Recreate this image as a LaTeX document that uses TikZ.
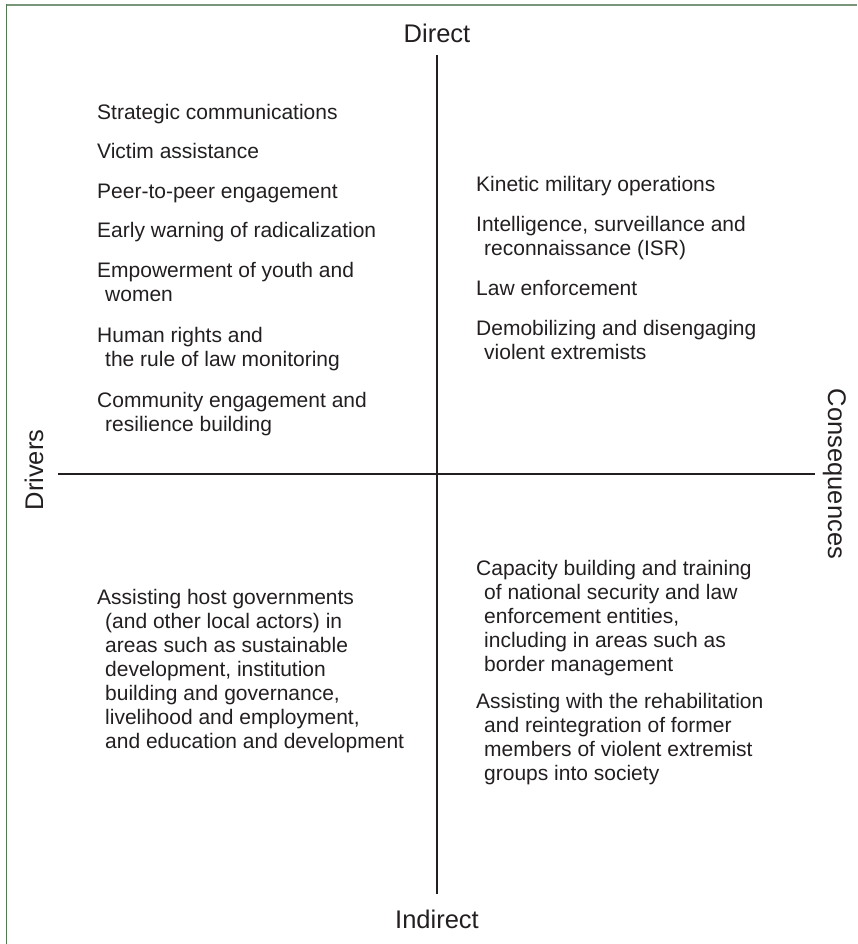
\documentclass[tikz,border=0pt]{standalone}
\usepackage{fontspec}
\setmainfont{Liberation Sans}
\definecolor{ink}{RGB}{35,31,32}
\definecolor{frameTop}{RGB}{122,150,122}
\definecolor{frameLeft}{RGB}{80,125,80}
\newcommand{\itm}[1]{\begin{tabular}[t]{@{}l@{}}#1\end{tabular}}
\newcommand{\ind}{\hspace*{8pt}}
\tikzset{
  item/.style={anchor=base west, inner sep=0pt, font=\fontsize{21}{24}\selectfont, text=ink},
  axislabel/.style={anchor=base, inner sep=0pt, font=\fontsize{25.5}{28}\selectfont, text=ink},
  axisline/.style={draw=ink, line width=2pt}
}
\begin{document}
\begin{tikzpicture}[x=1pt,y=-1pt]
\useasboundingbox (0,0) rectangle (857,944);
% frame
\draw[frameTop, line width=2pt] (5.5,4.8) -- (857,4.8);
\draw[frameLeft, line width=1.8pt] (6.5,4) -- (6.5,944);
% axes
\coordinate (vt) at (437,55);
\coordinate (vb) at (437,894);
\coordinate (hl) at (58,474);
\coordinate (hr) at (815,474);
\draw[axisline] (vt) -- (vb);
\draw[axisline] (hl) -- (hr);
% axis labels
\node[axislabel] (direct) at (437,43) {Direct};
\node[axislabel] (indirect) at (437,928) {Indirect};
\node[axislabel, rotate=90] (drivers) at (43,470) {Drivers};
\node[axislabel, rotate=-90] (conseq) at (828,474) {Consequences};
% upper left
\node[item] (ul1) at (97,120) {\itm{Strategic communications}};
\node[item] (ul2) at (97,159) {\itm{Victim assistance}};
\node[item] (ul3) at (97,198) {\itm{Peer-to-peer engagement}};
\node[item] (ul4) at (97,237) {\itm{Early warning of radicalization}};
\node[item] (ul5) at (97,277) {\itm{Empowerment of youth and\\\ind women}};
\node[item] (ul6) at (97,342) {\itm{Human rights and\\\ind the rule of law monitoring}};
\node[item] (ul7) at (97,407) {\itm{Community engagement and\\\ind resilience building}};
% upper right
\node[item] (ur1) at (476,191) {\itm{Kinetic military operations}};
\node[item] (ur2) at (476,231) {\itm{Intelligence, surveillance and\\\ind reconnaissance (ISR)}};
\node[item] (ur3) at (476,295) {\itm{Law enforcement}};
\node[item] (ur4) at (476,335) {\itm{Demobilizing and disengaging\\\ind violent extremists}};
% lower left
\node[item] (ll1) at (97,604) {\itm{Assisting host governments\\\ind (and other local actors) in\\\ind areas such as sustainable\\\ind development, institution\\\ind building and governance,\\\ind livelihood and employment,\\\ind and education and development}};
% lower right
\node[item] (lr1) at (476,575) {\itm{Capacity building and training\\\ind of national security and law\\\ind enforcement entities,\\\ind including in areas such as\\\ind border management}};
\node[item] (lr2) at (476,708) {\itm{Assisting with the rehabilitation\\\ind and reintegration of former\\\ind members of violent extremist\\\ind groups into society}};
\end{tikzpicture}
\end{document}
